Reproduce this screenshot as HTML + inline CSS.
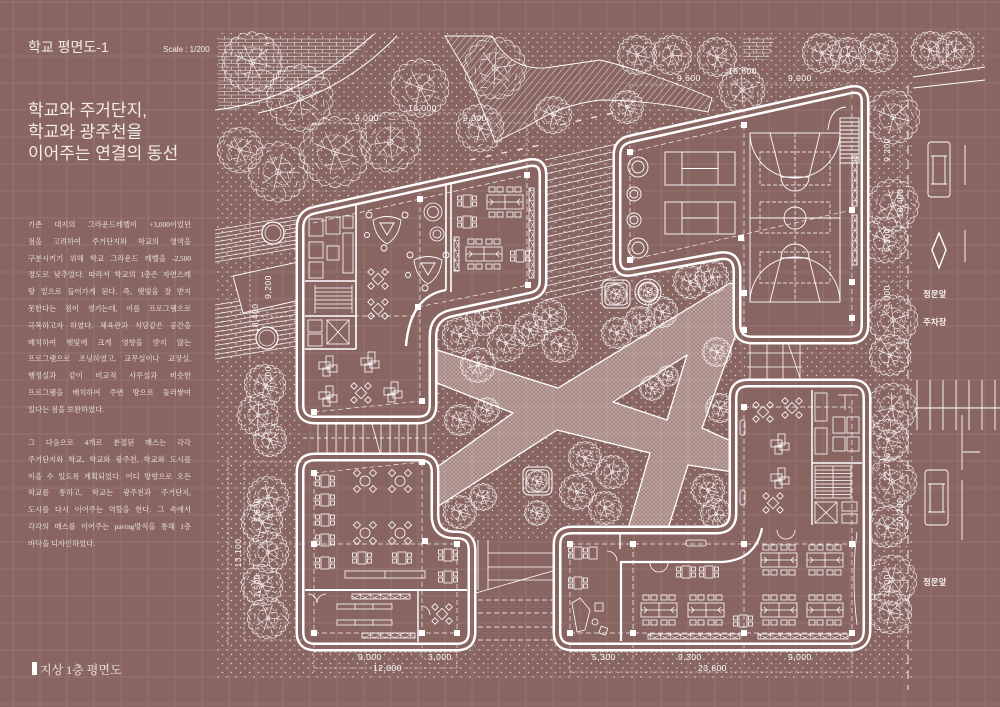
<!DOCTYPE html>
<html><head><meta charset="utf-8"><title>학교 평면도-1</title>
<style>
html,body{margin:0;padding:0;}
body{width:1000px;height:707px;overflow:hidden;background:#896561;position:relative;}
svg{position:absolute;left:0;top:0;}
.kh{font-family:"Liberation Sans","Noto Sans CJK KR",sans-serif;fill:#f4ece9;}
.dm{font-family:"Liberation Sans",sans-serif;font-size:8.5px;fill:#fff;letter-spacing:0.5px;}
.p{position:absolute;left:28px;width:163px;font-family:"Liberation Serif","Noto Serif CJK SC",serif;font-size:7.3px;line-height:16.8px;color:#f5efec;}
.p div{height:16.8px;overflow:hidden;text-align:justify;text-align-last:justify;}
.p div.l{text-align-last:left;}
</style></head><body>
<svg width="1000" height="707" viewBox="0 0 1000 707" xmlns="http://www.w3.org/2000/svg">
<defs>
<pattern id="dots" width="9" height="9" patternUnits="userSpaceOnUse"><circle cx="2" cy="2" r="0.7" fill="#fff" fill-opacity="0.75"/><circle cx="6.5" cy="6.5" r="0.7" fill="#fff" fill-opacity="0.75"/></pattern>
<pattern id="pave" width="4" height="4" patternUnits="userSpaceOnUse"><rect width="4" height="4" fill="#a4847f"/><path d="M0,4L4,0M0,0L4,4" stroke="#dccdca" stroke-width="0.45"/></pattern>
<pattern id="hatch" width="5" height="5" patternUnits="userSpaceOnUse" patternTransform="rotate(40)"><line x1="0" y1="0" x2="0" y2="5" stroke="#fff" stroke-width="0.9" stroke-opacity="0.85"/></pattern>
<pattern id="brick" width="14" height="7" patternUnits="userSpaceOnUse"><path d="M0,0.5H14M0,4H14M0.5,0.5V4M7.5,4V7" stroke="#fff" stroke-width="0.6" stroke-opacity="0.85" fill="none"/></pattern>
<pattern id="xbh" width="10" height="5" patternUnits="userSpaceOnUse"><path d="M0,0L10,5M10,0L0,5M0.3,0V5" stroke="#fff" stroke-width="0.5" fill="none"/></pattern>
<pattern id="xbv" width="5" height="10" patternUnits="userSpaceOnUse"><path d="M0,0L5,10M5,0L0,10M0,0.3H5" stroke="#fff" stroke-width="0.5" fill="none"/></pattern>
<path id="scal" vector-effect="non-scaling-stroke" d="M19,0A3.6,3.6 0 0 1 17.85,6.5A3.6,3.6 0 0 1 14.55,12.21A3.6,3.6 0 0 1 9.5,16.45A3.6,3.6 0 0 1 3.3,18.71A3.6,3.6 0 0 1 -3.3,18.71A3.6,3.6 0 0 1 -9.5,16.45A3.6,3.6 0 0 1 -14.55,12.21A3.6,3.6 0 0 1 -17.85,6.5A3.6,3.6 0 0 1 -19,0A3.6,3.6 0 0 1 -17.85,-6.5A3.6,3.6 0 0 1 -14.55,-12.21A3.6,3.6 0 0 1 -9.5,-16.45A3.6,3.6 0 0 1 -3.3,-18.71A3.6,3.6 0 0 1 3.3,-18.71A3.6,3.6 0 0 1 9.5,-16.45A3.6,3.6 0 0 1 14.55,-12.21A3.6,3.6 0 0 1 17.85,-6.5A3.6,3.6 0 0 1 19,0Z"/>
<g id="tree" fill="none" stroke="#fff" stroke-width="0.7" opacity="0.88">
<use href="#scal"/>
<use href="#scal" transform="rotate(10) scale(0.9)" opacity="0.5"/>
<use href="#scal" transform="rotate(5) scale(0.5)" opacity="0.6"/>
<path vector-effect="non-scaling-stroke" d="M0,0L11,-9M0,0L-12,-5M0,0L-3,13M0,0L6,12M0,0L-6,-12M0,0L13,3M5,-4L9,-1M6,-5L7,-10M-6,-2L-8,-7M-7,-3L-11,0M-1,7L-6,8M3,6L8,5M-2,-6L2,-10M10,6L14,8M-12,6L-9,10M8,-12L12,-13M-13,-9L-15,-5M2,14L-2,16M14,-4L16,0"/>
<circle r="2" vector-effect="non-scaling-stroke"/>
</g>
<g id="ch4" fill="none" stroke="#fff" stroke-width="0.8">
<rect x="-4" y="-4" width="8" height="8" transform="rotate(45)"/>
<rect x="-2.3" y="-2.3" width="4.6" height="4.6" transform="translate(-7,-7) rotate(45)"/>
<rect x="-2.3" y="-2.3" width="4.6" height="4.6" transform="translate(7,-7) rotate(45)"/>
<rect x="-2.3" y="-2.3" width="4.6" height="4.6" transform="translate(-7,7) rotate(45)"/>
<rect x="-2.3" y="-2.3" width="4.6" height="4.6" transform="translate(7,7) rotate(45)"/>
</g>
<g id="rt4" fill="none" stroke="#fff" stroke-width="0.8">
<circle r="5"/>
<rect x="-2.5" y="-2.5" width="5" height="5" transform="translate(-8,-8) rotate(45)"/>
<rect x="-2.5" y="-2.5" width="5" height="5" transform="translate(8,-8) rotate(45)"/>
<rect x="-2.5" y="-2.5" width="5" height="5" transform="translate(-8,8) rotate(45)"/>
<rect x="-2.5" y="-2.5" width="5" height="5" transform="translate(8,8) rotate(45)"/>
</g>
<g id="tb4" fill="none" stroke="#fff" stroke-width="0.8">
<rect x="-4" y="-6" width="8" height="12"/>
<rect x="-9.5" y="-5" width="4" height="4"/><rect x="-9.5" y="1" width="4" height="4"/>
<rect x="5.5" y="-5" width="4" height="4"/><rect x="5.5" y="1" width="4" height="4"/>
</g>
<g id="desk8" fill="none" stroke="#fff" stroke-width="0.8">
<rect x="-18" y="-7" width="36" height="14"/>
<path d="M0,-7V7M-18,0H18M-15,-3L-12,0M15,-3L12,0M-15,3L-12,0M15,3L12,0"/>
<rect x="-16" y="-15" width="6" height="5"/><rect x="-8" y="-15" width="6" height="5"/><rect x="2" y="-15" width="6" height="5"/><rect x="10" y="-15" width="6" height="5"/>
<rect x="-16" y="10" width="6" height="5"/><rect x="-8" y="10" width="6" height="5"/><rect x="2" y="10" width="6" height="5"/><rect x="10" y="10" width="6" height="5"/>
</g>
<g id="xt" fill="none" stroke="#fff" stroke-width="0.8">
<rect x="-9" y="-3" width="11" height="7"/><rect x="-2" y="-9" width="7" height="11"/><rect x="0" y="0" width="9" height="7"/><rect x="-5" y="3" width="7" height="8"/>
</g>
<rect id="col" x="-3" y="-3" width="6" height="6" fill="#fff"/>
<g id="tri" fill="none" stroke="#fff" stroke-width="0.9">
<path d="M-14,-8 Q0,-15 14,-8 Q12,9 0,16 Q-12,9 -14,-8Z"/>
<path d="M-7,-5H7L0,7Z"/>
<circle cx="-18" cy="-13" r="3"/><circle cx="18" cy="-13" r="3"/><circle cx="-3" cy="20" r="3"/><circle cx="-20" cy="7" r="2.5"/>
</g>
<path id="bA" d="M300,228 Q300,213 315,210 L528,163 Q543,160 543,175 L543,281 Q543,293 531,296 L452,313 Q433,317 433,336 L433,405 Q433,420 418,420 L315,420 Q300,420 300,405 Z"/>
<path id="bB" d="M617,155 Q617,142 630,139 L850,90 Q865,87 865,102 L865,325 Q865,340 850,340 L752,340 Q737,340 737,325 L737,272 Q737,253 719,256 L632,272 Q617,275 617,260 Z"/>
<path id="bC" d="M300,472 Q300,457 315,457 L420,457 Q435,457 435,472 L435,515 Q435,535 455,535 L457,535 Q472,535 472,550 L472,632 Q472,647 457,647 L315,647 Q300,647 300,632 Z"/>
<path id="bD" d="M557,545 Q557,530 572,530 L716,530 Q733,530 733,513 L733,398 Q733,383 748,383 L852,383 Q867,383 867,398 L867,630 Q867,647 850,647 L572,647 Q557,647 557,632 Z"/>
</defs>

<rect x="215" y="33" width="697" height="648" fill="url(#dots)"/>
<rect x="912" y="33" width="73" height="40" fill="url(#dots)"/>

<path d="M218,36 L372,36 Q340,80 280,100 Q250,108 218,112 Z" fill="#896561"/>
<path d="M218,36 L372,36 Q340,80 280,100 Q250,108 218,112 Z" fill="url(#brick)"/>
<path d="M743,37H775L768,60H743Z" fill="url(#brick)"/>
<g fill="none" stroke="#fff" stroke-width="1.1">
<path d="M215,110 Q300,100 374,34"/>
<path d="M258,113 Q340,95 397,36"/>
</g>

<path d="M445,36 L492,36 Q510,70 545,68 L600,60 Q650,72 712,98 L708,112 Q650,100 600,100 Q560,105 530,125 L495,142 Q480,100 465,70 Z" fill="#896561"/>
<path d="M445,36 L492,36 Q510,70 545,68 L600,60 Q650,72 712,98 L708,112 Q650,100 600,100 Q560,105 530,125 L495,142 Q480,100 465,70 Z" fill="url(#hatch)" stroke="#fff" stroke-width="0.9"/>

<g stroke="#fff" stroke-width="0.8" opacity="0.9">
<path d="M215,230L302,215M215,234L302,219M215,238L302,223M215,242L302,227M215,246L302,231M215,250L302,235M215,254L302,239M215,258L302,243M215,262L302,247"/>
<path d="M215,305L302,291M215,309.5L302,295.5M215,314L302,300M215,318.5L302,304.5M215,323L302,309M215,327.5L302,313.5M215,332L302,318M215,336.5L302,322.5M215,341L302,327M215,345.5L302,331.5M215,350L302,336M215,354.5L302,340.5M215,359L302,345"/>
</g>
<g fill="#896561" stroke="#fff" stroke-width="1.2">
<circle cx="273" cy="233" r="11"/><circle cx="267" cy="338" r="11"/>
</g>
<circle cx="273" cy="233" r="8" fill="none" stroke="#fff" stroke-width="0.7"/>
<circle cx="267" cy="338" r="8" fill="none" stroke="#fff" stroke-width="0.7"/>
<path d="M233,276 L298,262 L300,300 L243,313 Z" fill="#896561" stroke="#fff" stroke-width="0.9"/>

<g stroke="#fff" stroke-width="0.8" opacity="0.9">
<path d="M545,160L617,144M545,167L617,151M545,174L617,158M545,181L617,165M545,188L617,172M545,195L617,179M545,202L617,186M545,209L617,193M545,216L617,200M545,223L617,207M545,230L617,214M545,237L617,221M545,244L617,228M545,251L617,235M545,258L617,242M545,265L617,249M545,272L617,256M545,279L617,263M545,286L617,270M545,293L617,277M545,300L617,284"/>
</g>
<g stroke="#fff" stroke-width="1.4" stroke-dasharray="6,10" opacity="0.85">
<path d="M470,160L545,144M560,125L617,112"/>
</g>

<path fill-rule="evenodd" d="M437,350 L558,388 L730,283 L735,285 L735,337 L702,428 L733,442 L733,472 L688,465 L667,532 L627,532 L650,453 L557,430 L437,507 L437,467 L513,413 L437,383 Z M613,402 L687,355 L667,420 Z" fill="url(#pave)" stroke="#fff" stroke-width="1.3" stroke-linejoin="round"/>

<g>
<use href="#tree" transform="translate(252,62) scale(1.45)"/>
<use href="#tree" transform="translate(300,98) scale(1.6) rotate(20)"/>
<use href="#tree" transform="translate(240,150) scale(1.1)"/>
<use href="#tree" transform="translate(278,172) scale(1.45) rotate(40)"/>
<use href="#tree" transform="translate(335,152) scale(1.7)"/>
<use href="#tree" transform="translate(390,142) scale(1.45) rotate(70)"/>
<use href="#tree" transform="translate(420,88) scale(1.4)"/>
<use href="#tree" transform="translate(495,68) scale(1.5) rotate(30)"/>
<use href="#tree" transform="translate(480,128) scale(1.15)"/>
<use href="#tree" transform="translate(553,115) scale(0.9)"/>
<use href="#tree" transform="translate(627,107) scale(0.8)"/>
<use href="#tree" transform="translate(637,55) scale(0.95)"/>
<use href="#tree" transform="translate(672,55) scale(0.95) rotate(45)"/>
<use href="#tree" transform="translate(717,57) scale(0.95)"/>
<use href="#tree" transform="translate(742,90) scale(1.1) rotate(25)"/>
<use href="#tree" transform="translate(822,53) scale(0.95)"/>
<use href="#tree" transform="translate(848,55) scale(0.85) rotate(60)"/>
<use href="#tree" transform="translate(878,53) scale(0.95)"/>
<use href="#tree" transform="translate(930,50) scale(0.9)"/>
<use href="#tree" transform="translate(955,50) scale(0.9) rotate(35)"/>
<use href="#tree" transform="translate(893,117) scale(1.3)"/>
<use href="#tree" transform="translate(893,205) scale(1.25) rotate(50)"/>
<use href="#tree" transform="translate(885,240) scale(1.1)"/>
<use href="#tree" transform="translate(893,320) scale(1.2) rotate(20)"/>
<use href="#tree" transform="translate(890,355) scale(1.0)"/>
<use href="#tree" transform="translate(892,408) scale(1.2) rotate(65)"/>
<use href="#tree" transform="translate(888,440) scale(1.0)"/>
<use href="#tree" transform="translate(892,482) scale(1.2) rotate(15)"/>
<use href="#tree" transform="translate(887,527) scale(1.0)"/>
<use href="#tree" transform="translate(892,580) scale(1.2) rotate(40)"/>
<use href="#tree" transform="translate(890,612) scale(1.05)"/>
<use href="#tree" transform="translate(265,385) scale(1.0)"/>
<use href="#tree" transform="translate(258,415) scale(1.0) rotate(30)"/>
<use href="#tree" transform="translate(270,440) scale(0.8)"/>
<use href="#tree" transform="translate(268,497) scale(1.0) rotate(55)"/>
<use href="#tree" transform="translate(262,522) scale(1.0)"/>
<use href="#tree" transform="translate(268,552) scale(1.0) rotate(20)"/>
<use href="#tree" transform="translate(262,585) scale(1.0)"/>
<use href="#tree" transform="translate(268,618) scale(1.0) rotate(45)"/>
<use href="#tree" transform="translate(460,335) scale(0.85)"/>
<use href="#tree" transform="translate(483,318) scale(0.85) rotate(30)"/>
<use href="#tree" transform="translate(506,343) scale(0.9)"/>
<use href="#tree" transform="translate(478,365) scale(0.85) rotate(60)"/>
<use href="#tree" transform="translate(530,330) scale(0.8)"/>
<use href="#tree" transform="translate(550,316) scale(0.8) rotate(20)"/>
<use href="#tree" transform="translate(560,345) scale(0.85)"/>
<use href="#tree" transform="translate(460,420) scale(0.75)"/>
<use href="#tree" transform="translate(487,410) scale(0.6)"/>
<use href="#tree" transform="translate(690,282) scale(0.8)"/>
<use href="#tree" transform="translate(712,277) scale(0.8) rotate(40)"/>
<use href="#tree" transform="translate(617,333) scale(0.75)"/>
<use href="#tree" transform="translate(640,322) scale(0.75) rotate(25)"/>
<use href="#tree" transform="translate(662,312) scale(0.75)"/>
<use href="#tree" transform="translate(717,352) scale(0.7)"/>
<use href="#tree" transform="translate(652,388) scale(0.6)"/>
<use href="#tree" transform="translate(668,376) scale(0.5)"/>
<use href="#tree" transform="translate(720,408) scale(0.7)"/>
<use href="#tree" transform="translate(585,458) scale(0.8)"/>
<use href="#tree" transform="translate(612,472) scale(0.8) rotate(35)"/>
<use href="#tree" transform="translate(577,492) scale(0.85)"/>
<use href="#tree" transform="translate(605,508) scale(0.8) rotate(15)"/>
<use href="#tree" transform="translate(708,490) scale(0.8)"/>
<use href="#tree" transform="translate(716,514) scale(0.75) rotate(50)"/>
<use href="#tree" transform="translate(460,512) scale(0.8)"/>
<use href="#tree" transform="translate(483,497) scale(0.65)"/>
<use href="#tree" transform="translate(537,513) scale(0.6)"/>
</g>
<g fill="none" stroke="#fff" stroke-width="1">
<rect x="602" y="280" width="28" height="28" rx="6"/><rect x="605" y="283" width="22" height="22" rx="4"/>
<rect x="523" y="467" width="29" height="28" rx="6"/><rect x="526" y="470" width="23" height="22" rx="4"/>
<circle cx="648" cy="292" r="13"/><circle cx="648" cy="292" r="10"/>
</g>
<use href="#tree" transform="translate(616,294) scale(0.5)"/>
<use href="#tree" transform="translate(537,481) scale(0.5)"/>
<use href="#tree" transform="translate(648,292) scale(0.45)"/>

<rect x="303" y="424" width="129" height="30" fill="#896561"/>
<g stroke="#fff" stroke-width="0.8" fill="none">
<path d="M318,424V453M327,424V453M336,424V453M345,424V453M354,424V453M363,424V453M381,424V453M390,424V453M399,424V453M408,424V453M417,424V453M426,424V453"/>
<path d="M372,424L380,453" />
<path d="M303,438H432" stroke-dasharray="4,3"/>
</g>
<rect x="476" y="538" width="80" height="104" fill="#896561"/>
<g stroke="#fff" stroke-width="0.8" fill="none">
<path d="M478,540V590M488,540V590M488,553H556M488,567H556M488,580H556"/>
<path d="M478,600H556M478,613H556M478,627H556M478,640H556" stroke-dasharray="5,3"/>
<path d="M476,593L556,570"/>
</g>
<rect x="746" y="340" width="56" height="38" fill="#896561"/>
<g stroke="#fff" stroke-width="0.8" fill="none">
<path d="M750,340V380M767,340V380M783,340V380M800,340V380M747,353H802M747,367H802M787,340L800,378"/>
</g>

<g fill="#896561" stroke="#fff" stroke-width="9" stroke-linejoin="round">
<use href="#bA"/><use href="#bB"/><use href="#bC"/><use href="#bD"/>
</g>
<g fill="none" stroke="#896561" stroke-width="4" stroke-linejoin="round">
<use href="#bA"/><use href="#bB"/><use href="#bC"/><use href="#bD"/>
</g>

<g fill="none" stroke="#fff" stroke-width="0.7" stroke-dasharray="5,3" opacity="0.9">
<path d="M420,199V401M313,223L420,199L527,175M527,175V285M418,307L528,285M314,412L422,401M314,316H420"/>
<path d="M744,125V330M630,152L744,125M630,260L852,210M852,105V330M630,152V260"/>
<path d="M314,473L422,462M314,473V633M422,462V633M314,544H457M314,633H457M457,544V633"/>
<path d="M570,544H852M633,544V633M744,407V633M570,633H852M852,400V633M570,544V633M744,407H852"/>
</g>

<g fill="none" stroke="#fff" stroke-width="1.6">
<path d="M446,185V290M451,184V292"/>
<path d="M446,290 Q410,296 406,346" stroke-width="2.4"/>
<path d="M356,203V349M305,281H356M305,316H356M305,349H356"/>
</g>
<g fill="none" stroke="#fff" stroke-width="0.8">
<rect x="309" y="219" width="14" height="17"/><rect x="326" y="217" width="14" height="17"/><rect x="343" y="216" width="10" height="12"/>
<rect x="309" y="242" width="14" height="16"/><rect x="327" y="246" width="12" height="14"/><rect x="343" y="233" width="10" height="40"/>
<rect x="309" y="262" width="14" height="16"/>
<path d="M315,285V313M352,285V313M315,288H352M315,292H352M315,296H352M315,300H352M315,304H352M315,308H352"/>
<rect x="327" y="320" width="22" height="24"/><path d="M327,320L349,344M349,320L327,344"/>
<rect x="308" y="320" width="14" height="12"/><rect x="308" y="334" width="14" height="12"/>
<circle cx="433" cy="212" r="9"/><circle cx="433" cy="212" r="5.5"/>
<circle cx="437" cy="234" r="7"/><circle cx="437" cy="234" r="4"/>
<rect x="529" y="188" width="5" height="90" fill="url(#xbv)"/>
<rect x="454" y="237" width="5" height="34" fill="url(#xbv)"/>
</g>
<use href="#tri" transform="translate(387,228)"/>
<use href="#tri" transform="translate(428,268)"/>
<use href="#ch4" transform="translate(378,279)"/>
<use href="#ch4" transform="translate(378,309)"/>
<use href="#desk8" transform="translate(505,202)"/>
<use href="#desk8" transform="translate(484,254)"/>
<use href="#tb4" transform="translate(467,201)"/>
<use href="#tb4" transform="translate(467,222)"/>
<use href="#tb4" transform="translate(520,256)"/>
<use href="#xt" transform="translate(328,365)"/>
<use href="#xt" transform="translate(370,361)"/>
<use href="#xt" transform="translate(328,395)"/>
<use href="#ch4" transform="translate(361,393)"/>
<use href="#xt" transform="translate(393,391)"/>

<g fill="none" stroke="#fff" stroke-width="0.9">
<rect x="750" y="133" width="90" height="169"/>
<path d="M750,133 A45,45 0 0 0 840,133M750,302 A45,45 0 0 1 840,302M750,218H840"/>
<circle cx="795" cy="218" r="11"/>
<path d="M770,133L781,177H809L820,133M770,302L781,258H809L820,302M781,177 A14,14 0 0 0 809,177M781,258 A14,14 0 0 1 809,258"/>
<rect x="665" y="152" width="70" height="33"/><path d="M682,152V185M718,152V185M682,168.5H718"/>
<rect x="665" y="202" width="70" height="32"/><path d="M682,202V234M718,202V234M682,218H718"/>
<circle cx="638" cy="167" r="10"/><circle cx="638" cy="167" r="6"/>
<circle cx="634" cy="194" r="7"/><circle cx="634" cy="194" r="4"/>
<circle cx="634" cy="220" r="7"/><circle cx="634" cy="220" r="4"/>
<circle cx="638" cy="248" r="10"/><circle cx="638" cy="248" r="6"/>
<rect x="840" y="118" width="19" height="45"/>
<path d="M840,122H859M840,126H859M840,130H859M840,134H859M840,138H859M840,142H859M840,146H859M840,150H859M840,154H859M840,158H859"/>
<path d="M828,130 Q830,108 846,107"/>
<rect x="852" y="156" width="5" height="50" fill="url(#xbv)"/>
<rect x="852" y="215" width="5" height="50" fill="url(#xbv)"/>
</g>
<g fill="none" stroke="#fff" stroke-width="0.7" stroke-dasharray="4,2">
<rect x="760" y="152" width="70" height="33"/><rect x="760" y="202" width="70" height="31"/><rect x="760" y="252" width="70" height="31"/>
<path d="M795,133V302"/>
</g>

<g fill="none" stroke="#fff" stroke-width="2">
<path d="M305,590H467"/><path d="M418,590V642" stroke-width="1.4"/>
</g>
<g fill="none" stroke="#fff" stroke-width="0.8">
<rect x="345" y="571" width="80" height="7"/><path d="M385,571V578"/>
<rect x="337" y="604" width="55" height="5"/><path d="M355,604V609M373,604V609"/>
<rect x="337" y="620" width="55" height="5"/><path d="M355,620V625M373,620V625"/>
<rect x="352" y="594" width="58" height="5" fill="url(#xbh)"/>
<rect x="362" y="633" width="53" height="5" fill="url(#xbh)"/>
<path d="M308,594 A9,9 0 0 1 317,603M326,594 A9,9 0 0 0 317,603M421,606 A9,9 0 0 1 430,615"/>
</g>
<use href="#rt4" transform="translate(365,481)"/>
<use href="#rt4" transform="translate(400,481)"/>
<use href="#rt4" transform="translate(365,533)"/>
<use href="#rt4" transform="translate(400,533)"/>
<use href="#tb4" transform="translate(325,481)"/>
<use href="#tb4" transform="translate(325,500)"/>
<use href="#tb4" transform="translate(325,520)"/>
<use href="#tb4" transform="translate(325,540)"/>
<use href="#tb4" transform="translate(325,563)"/>
<use href="#tb4" transform="translate(362,558)"/>
<use href="#tb4" transform="translate(402,558)"/>
<use href="#tb4" transform="translate(448,555)"/>
<use href="#tb4" transform="translate(448,577)"/>
<use href="#ch4" transform="translate(442,614)"/>

<g fill="none" stroke="#fff" stroke-width="2.2">
<path d="M762,528 Q756,560 722,562 L621,562 L621,641"/>
<path d="M620,533V549" stroke-width="1.4"/>
<path d="M812,390V525M812,463H862" stroke-width="1.5"/>
</g>
<g fill="none" stroke="#fff" stroke-width="0.8">
<rect x="815" y="393" width="12" height="28"/><rect x="833" y="417" width="12" height="16"/><rect x="847" y="417" width="12" height="16"/>
<rect x="833" y="437" width="12" height="14"/><rect x="847" y="437" width="12" height="14"/><rect x="815" y="428" width="12" height="26"/>
<path d="M838,395H858M845,395V410"/>
<rect x="815" y="466" width="36" height="32"/>
<path d="M815,470H851M815,473.5H851M815,477H851M815,480.5H851M815,484H851M815,487.5H851M815,491H851M815,494.5H851M833,466V498"/>
<rect x="815" y="502" width="22" height="21"/><path d="M815,502L837,523M837,502L815,523"/>
<rect x="842" y="502" width="15" height="9"/><rect x="842" y="514" width="15" height="9"/>
<rect x="740" y="420" width="5" height="15" rx="2"/><rect x="740" y="490" width="5" height="15" rx="2"/>
<rect x="686" y="540" width="20" height="6" rx="2"/>
<rect x="648" y="634" width="92" height="5" fill="url(#xbh)"/>
<rect x="758" y="634" width="90" height="5" fill="url(#xbh)"/>
<path d="M777,530 A9,9 0 0 0 786,539M795,530 A9,9 0 0 1 786,539M650,563 A9,9 0 0 0 659,572M668,563 A9,9 0 0 1 659,572M607,551 A10,10 0 0 1 617,561"/>
<path d="M857,532 Q851,578 857,625"/>
<path d="M572,603 L580,598 L590,610 L585,630 L577,632 Z"/>
<circle cx="595" cy="622" r="3"/><rect x="595" y="603" width="8" height="8"/><rect x="600" y="627" width="7" height="7" transform="rotate(20 603 630)"/>
<rect x="589" y="547" width="8" height="12"/>
</g>
<use href="#ch4" transform="translate(763,412)"/>
<use href="#ch4" transform="translate(792,408)"/>
<use href="#ch4" transform="translate(773,503)"/>
<use href="#xt" transform="translate(780,443)"/>
<use href="#xt" transform="translate(780,477)"/>
<use href="#desk8" transform="translate(779,560)"/>
<use href="#desk8" transform="translate(825,560)"/>
<use href="#desk8" transform="translate(659,610)"/>
<use href="#desk8" transform="translate(706,610)"/>
<use href="#desk8" transform="translate(779,610)"/>
<use href="#desk8" transform="translate(825,610)"/>
<use href="#tb4" transform="translate(686,572)"/>
<use href="#tb4" transform="translate(709,572)"/>
<use href="#tb4" transform="translate(743,621)"/>
<use href="#tb4" transform="translate(578,553)"/>
<use href="#tb4" transform="translate(578,583)"/>

<g>
<use href="#col" x="420" y="199"/><use href="#col" x="527" y="175"/><use href="#col" x="528" y="285"/><use href="#col" x="418" y="307"/><use href="#col" x="422" y="401"/><use href="#col" x="314" y="412"/>
<use href="#col" x="630" y="152"/><use href="#col" x="744" y="125"/><use href="#col" x="741" y="238"/><use href="#col" x="630" y="260"/><use href="#col" x="744" y="293"/><use href="#col" x="744" y="330"/><use href="#col" x="852" y="210"/><use href="#col" x="852" y="282"/><use href="#col" x="852" y="318"/>
<use href="#col" x="314" y="473"/><use href="#col" x="422" y="462"/><use href="#col" x="314" y="544"/><use href="#col" x="425" y="541"/><use href="#col" x="457" y="544"/><use href="#col" x="314" y="633"/><use href="#col" x="422" y="633"/><use href="#col" x="457" y="633"/>
<use href="#col" x="744" y="407"/><use href="#col" x="633" y="544"/><use href="#col" x="744" y="544"/><use href="#col" x="852" y="544"/><use href="#col" x="633" y="633"/><use href="#col" x="744" y="633"/><use href="#col" x="852" y="633"/><use href="#col" x="570" y="544"/><use href="#col" x="570" y="633"/>
</g>

<g fill="none" stroke="#fff" stroke-width="0.6" stroke-dasharray="3,2" opacity="0.85">
<path d="M313,123H527M313,123V200M420,123V195M527,123V170M313,113H527"/>
<path d="M630,85H852M630,85V148M744,85V120M852,85V100"/>
<path d="M244,462V640M244,462H305M244,544H305M244,640H305M228,457V647"/>
<path d="M250,199V420M250,316H300"/>
<path d="M314,652H460M314,668H460M314,645V672M422,645V660M457,645V672"/>
<path d="M570,652H852M570,672H852M570,645V676M633,645V660M744,645V660M852,645V676"/>
<path d="M900,100V340M900,390V640M880,210H900M880,282H900M880,544H900"/>
</g>
<g class="dm">
<text x="355" y="121">9,000</text>
<text x="408" y="111">18,000</text>
<text x="463" y="121">9,000</text>
<text x="677" y="81">9,600</text>
<text x="728" y="74">18,600</text>
<text x="788" y="81">9,000</text>
<text x="358" y="660">9,000</text>
<text x="428" y="660">3,000</text>
<text x="373" y="671">12,000</text>
<text x="592" y="660">5,300</text>
<text x="678" y="660">9,300</text>
<text x="788" y="660">9,000</text>
<text x="698" y="671">23,600</text>
<g text-anchor="middle">
<text transform="translate(271,287) rotate(-90)">9,200</text>
<text transform="translate(258,318) rotate(-90)">18,400</text>
<text transform="translate(271,378) rotate(-90)">5,200</text>
<text transform="translate(260,510) rotate(-90)">5,600</text>
<text transform="translate(241,553) rotate(-90)">13,100</text>
<text transform="translate(260,586) rotate(-90)">7,500</text>
<text transform="translate(890,150) rotate(-90)">9,200</text>
<text transform="translate(903,203) rotate(-90)">18,400</text>
<text transform="translate(890,240) rotate(-90)">6,200</text>
<text transform="translate(890,297) rotate(-90)">3,000</text>
<text transform="translate(890,467) rotate(-90)">12,700</text>
<text transform="translate(903,512) rotate(-90)">20,200</text>
<text transform="translate(890,586) rotate(-90)">7,500</text>
</g>
</g>

<g fill="none" stroke="#fff" stroke-width="0.9">
<path d="M908,85V690" stroke-dasharray="9,6"/>
<path d="M913,77L985,67M913,88L985,80"/>
<path d="M965,145V185M965,230V262M962,415V470M962,480V540M963,452H980"/>
<path d="M917,380V430M930,380V430M943,380V430M956,380V430M969,380V430M982,380V430M995,380V430M915,408H1000"/>
<rect x="928" y="142" width="22" height="55" rx="3"/><path d="M931,156H947M931,184H947M933,156V184M945,156V184"/>
<rect x="925" y="470" width="23" height="55" rx="3"/><path d="M928,484H945M928,512H945M930,484V512M943,484V512"/>
<path d="M939,233L946,250L939,268L932,250Z" stroke-width="1.4"/>
</g>
<g class="kh" font-size="8.5" font-weight="bold">
<text x="923" y="297">정문앞</text>
<text x="923" y="325">주차장</text>
<text x="923" y="585">정문앞</text>
</g>

<path fill="none" stroke="#fff" stroke-opacity="0.13" stroke-width="0.8" d="M13,0V707M40,0V707M67,0V707M94,0V707M121,0V707M148,0V707M175,0V707M202,0V707M229,0V707M256,0V707M283,0V707M310,0V707M337,0V707M364,0V707M391,0V707M418,0V707M445,0V707M472,0V707M499,0V707M526,0V707M553,0V707M580,0V707M607,0V707M634,0V707M661,0V707M688,0V707M715,0V707M742,0V707M769,0V707M796,0V707M823,0V707M850,0V707M877,0V707M904,0V707M931,0V707M958,0V707M985,0V707M0,2H1000M0,29H1000M0,56H1000M0,83H1000M0,110H1000M0,137H1000M0,164H1000M0,191H1000M0,218H1000M0,245H1000M0,272H1000M0,299H1000M0,326H1000M0,353H1000M0,380H1000M0,407H1000M0,434H1000M0,461H1000M0,488H1000M0,515H1000M0,542H1000M0,569H1000M0,596H1000M0,623H1000M0,650H1000M0,677H1000M0,704H1000"/>

<text class="kh" x="28" y="52" font-size="14">학교 평면도-1</text>
<text x="163" y="52" font-family="Liberation Sans Narrow, Liberation Sans, sans-serif" font-size="8" fill="#f4ece9">Scale : 1/200</text>
<text class="kh" x="28" y="116" font-size="17">학교와 주거단지,</text>
<text class="kh" x="28" y="137.5" font-size="17">학교와 광주천을</text>
<text class="kh" x="28" y="159" font-size="17">이어주는 연결의 동선</text>
<rect x="32" y="662" width="5" height="13" fill="#fff"/>
<text x="40" y="674" font-family="Liberation Serif, Noto Serif CJK SC, serif" font-size="12" fill="#f4ece9">지상 1층 평면도</text>
</svg>

<div class="p" style="top:217px;">
<div>기존 대지의 그라운드레벨이 +3,000이었던</div>
<div>점을 고려하여 주거단지와 학교의 영역을</div>
<div>구분시키기 위해 학교 그라운드 레벨을 -2,500</div>
<div>정도로 낮추었다. 따라서 학교의 1층은 자연스레</div>
<div>땅 밑으로 들어가게 된다. 즉, 햇빛을 잘 받지</div>
<div>못한다는 점이 생기는데, 이를 프로그램으로</div>
<div>극복하고자 하였다. 체육관과 식당같은 공간을</div>
<div>배치하여 햇빛에 크게 영향을 받지 않는</div>
<div>프로그램으로 조닝하였고, 교무실이나 교장실,</div>
<div>행정실과 같이 비교적 사무실과 비슷한</div>
<div>프로그램을 배치하여 주변 땅으로 둘러쌓여</div>
<div class="l">있다는 점을 보완하였다.</div>
</div>
<div class="p" style="top:435px;">
<div>그 다음으로 4개로 분절된 매스는 각각</div>
<div>주거단지와 학교, 학교와 광주천, 학교와 도시를</div>
<div>이을 수 있도록 계획되었다. 어디 방향으로 오든</div>
<div>학교를 통하고, 학교는 광주천과 주거단지,</div>
<div>도시를 다시 이어주는 역할을 한다. 그 속에서</div>
<div>각각의 매스를 이어주는 paving방식을 통해 1층</div>
<div class="l">바닥을 디자인하였다.</div>
</div>
</body></html>
